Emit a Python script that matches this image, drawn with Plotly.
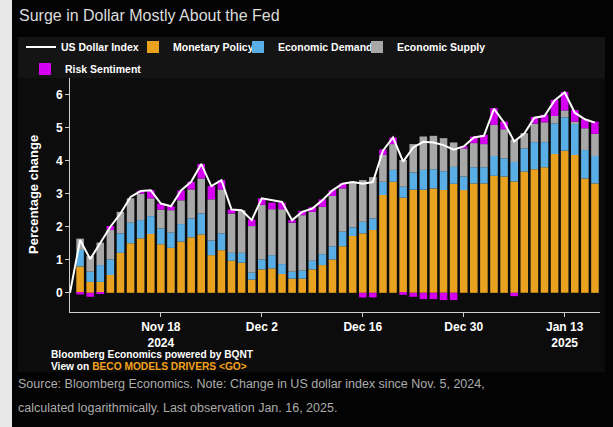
import plotly.graph_objects as go

# ---------------- data ----------------
dates = [
    "2024-11-05", "2024-11-06", "2024-11-07", "2024-11-08",
    "2024-11-11", "2024-11-12", "2024-11-13", "2024-11-14", "2024-11-15",
    "2024-11-18", "2024-11-19", "2024-11-20", "2024-11-21", "2024-11-22",
    "2024-11-25", "2024-11-26", "2024-11-27", "2024-11-28", "2024-11-29",
    "2024-12-02", "2024-12-03", "2024-12-04", "2024-12-05", "2024-12-06",
    "2024-12-09", "2024-12-10", "2024-12-11", "2024-12-12", "2024-12-13",
    "2024-12-16", "2024-12-17", "2024-12-18", "2024-12-19", "2024-12-20",
    "2024-12-23", "2024-12-24", "2024-12-25", "2024-12-26", "2024-12-27",
    "2024-12-30", "2024-12-31", "2025-01-01", "2025-01-02", "2025-01-03",
    "2025-01-06", "2025-01-07", "2025-01-08", "2025-01-09", "2025-01-10",
    "2025-01-13", "2025-01-14", "2025-01-15", "2025-01-16",
]
bar_dates = dates[1:]

monetary_policy = [
    0.80, 0.33, 0.33, 0.54, 1.21, 1.50, 1.65, 1.78,
    1.47, 1.36, 1.55, 1.68, 1.77,
    1.14, 1.29, 0.97, 0.91, 0.40,
    0.71, 0.74, 0.57, 0.43, 0.43,
    0.71, 0.84, 1.01, 1.41, 1.72,
    1.80, 1.90, 2.96, 3.36, 2.88,
    3.12, 3.12, 3.16, 3.11, 3.30,
    3.11, 3.31, 3.31, 3.54, 3.52,
    3.37, 3.67, 3.74, 3.80, 4.20,
    4.30, 4.17, 3.46, 3.31,
]
economic_demand = [
    0.50, 0.31, 0.51, 0.47, 0.59, 0.62, 0.55, 0.54,
    0.48, 0.46, 0.53, 0.57, 0.63,
    0.44, 0.51, 0.24, 0.30, 0.21,
    0.30, 0.40, 0.30, 0.21, 0.24,
    0.26, 0.33, 0.40, 0.44, 0.26,
    0.35, 0.35, 0.40, 0.36, 0.33,
    0.52, 0.60, 0.58, 0.57, 0.51,
    0.41, 0.49, 0.49, 0.60, 0.55,
    0.59, 0.70, 0.82, 0.76, 0.93,
    1.01, 0.96, 0.86, 0.83,
]
economic_supply = [
    0.34, 0.47, 0.68, 0.89, 0.65, 0.74, 0.80, 0.54,
    0.57, 0.68, 0.72, 0.88, 1.06,
    1.25, 1.33, 1.19, 1.29, 1.41,
    1.65, 1.39, 1.66, 1.48, 1.68,
    1.48, 1.43, 1.52, 1.31, 1.38,
    1.26, 1.25, 0.81, 0.78, 0.81,
    0.86, 1.01, 1.01, 1.00, 0.74,
    0.85, 0.73, 0.70, 0.94, 0.88,
    0.68, 0.46, 0.56, 0.60, 0.22,
    0.21, 0.05, 0.66, 0.67,
]
risk_sentiment = [
    -0.05, -0.12, -0.03, 0.12, 0.00, 0.00, 0.09, 0.25,
    0.18, 0.12, 0.30, 0.23, 0.44,
    0.40, 0.28, 0.12, 0.00, 0.20,
    0.20, 0.20, 0.20, 0.08, 0.13,
    0.14, 0.23, 0.18, 0.15, 0.00,
    -0.14, -0.14, 0.17, 0.20, -0.06,
    -0.12, -0.19, -0.19, -0.22, -0.22,
    0.07, 0.20, 0.28, 0.51, 0.23,
    -0.10, 0.00, 0.20, 0.23, 0.49,
    0.56, 0.35, 0.27, 0.37,
]
us_dollar_index = [
    0.00,
    1.60, 1.02, 1.50, 2.00, 2.40, 2.90, 3.08, 3.10,
    2.70, 2.62, 3.10, 3.36, 3.90,
    3.23, 3.41, 2.52, 2.50, 2.20,
    2.86, 2.80, 2.75, 2.20, 2.45,
    2.55, 2.80, 3.10, 3.30, 3.35,
    3.30, 3.35, 4.30, 4.70, 3.97,
    4.40, 4.57, 4.55, 4.47, 4.33,
    4.43, 4.70, 4.75, 5.57, 5.15,
    4.58, 4.82, 5.30, 5.35, 5.82,
    6.07, 5.45, 5.25, 5.15,
]

tick_dates = ["2024-11-18", "2024-12-02", "2024-12-16", "2024-12-30", "2025-01-13"]
tick_labels = ["Nov 18<br>2024", "Dec 2", "Dec 16", "Dec 30", "Jan 13<br>2025"]
y_ticks = [0, 1, 2, 3, 4, 5, 6]

# ---------------- styling ----------------
W, H = 613, 427
ML, MR, MT, MB = 70, 13, 78, 115
PW, PH = W - ML - MR, H - MT - MB


def px(x):
    return (x - ML) / PW


def py(y):
    return (H - MB - y) / PH


SANS = "Liberation Sans, Arial, sans-serif"
BOLD = dict(family=SANS, weight="bold", color="#ffffff")

fig = go.Figure()

series = [
    ("Monetary Policy", monetary_policy, "#E9A21F", "legend2"),
    ("Economic Demand", economic_demand, "#5AAEE6", "legend3"),
    ("Economic Supply", economic_supply, "#A8A8A8", "legend4"),
    ("Risk Sentiment", risk_sentiment, "#D400F0", "legend5"),
]
for name, vals, col, leg in series:
    fig.add_trace(go.Bar(x=bar_dates, y=vals, name=name, marker_color=col,
                         marker_line_width=0, legend=leg, showlegend=True))
fig.add_trace(go.Scatter(x=dates, y=us_dollar_index, name="US Dollar Index",
                         mode="lines", line=dict(color="#ffffff", width=2),
                         legend="legend", showlegend=True))

shapes = [
    # chart panel
    dict(type="rect", xref="paper", yref="paper", x0=px(18), x1=px(605),
         y0=py(372), y1=py(37), fillcolor="#0c0c0c", line_width=0, layer="below"),
    # legend band
    dict(type="rect", xref="paper", yref="paper", x0=px(18), x1=px(605),
         y0=py(78), y1=py(37), fillcolor="#141414", line_width=0, layer="below"),
    # light page strip on the left
    dict(type="rect", xref="paper", yref="paper", x0=px(0), x1=px(12),
         y0=py(427), y1=py(0), fillcolor="#e8e8e8", line_width=0, layer="below"),
]

annotations = [
    dict(text="Surge in Dollar Mostly About the Fed", x=px(17), y=py(15),
         xref="paper", yref="paper", xanchor="left", yanchor="middle", showarrow=False,
         font=dict(family=SANS, size=16, color="#dcdcdc")),
    dict(text="Percentage change", x=px(33), y=py(195), xref="paper", yref="paper",
         xanchor="center", yanchor="middle", textangle=-90, showarrow=False,
         font=dict(**BOLD, size=13)),
    dict(text="Bloomberg Economics powered by BQNT", x=px(49), y=py(354),
         xref="paper", yref="paper", xanchor="left", yanchor="middle", showarrow=False,
         font=dict(**BOLD, size=10.2)),
    dict(text="View on <span style='color:#F5A21C'>BECO MODELS DRIVERS &lt;GO&gt;</span>",
         x=px(49), y=py(366), xref="paper", yref="paper", xanchor="left",
         yanchor="middle", showarrow=False, font=dict(**BOLD, size=10.2)),
    dict(text="Source: Bloomberg Economics. Note: Change in US dollar index since Nov. 5, 2024,",
         x=px(16), y=py(384), xref="paper", yref="paper", xanchor="left",
         yanchor="middle", showarrow=False,
         font=dict(family=SANS, size=12.5, color="#ababab")),
    dict(text="calculated logarithmically. Last observation Jan. 16, 2025.",
         x=px(16), y=py(408), xref="paper", yref="paper", xanchor="left",
         yanchor="middle", showarrow=False,
         font=dict(family=SANS, size=12.5, color="#ababab")),
]


def leg(x, y):
    return dict(orientation="h", x=px(x), y=py(y), xanchor="left", yanchor="middle",
                bgcolor="rgba(0,0,0,0)", font=dict(**BOLD, size=10.5), itemwidth=30)


fig.update_layout(
    width=W, height=H,
    margin=dict(l=ML, r=MR, t=MT, b=MB, pad=0),
    paper_bgcolor="#030303",
    plot_bgcolor="rgba(0,0,0,0)",
    showlegend=True,
    barmode="relative",
    bargap=0.25,
    shapes=shapes,
    annotations=annotations,
    legend=leg(21, 47),
    legend2=leg(133, 47),
    legend3=leg(238, 47),
    legend4=leg(357, 47),
    legend5=leg(25, 69),
    xaxis=dict(type="category", categoryorder="array", categoryarray=dates,
               range=[0, 52.5], tickmode="array", tickvals=tick_dates,
               ticktext=tick_labels, ticks="outside", ticklen=4, tickcolor="#cccccc",
               showline=True, linecolor="#cccccc", linewidth=1, showgrid=False,
               zeroline=False, tickfont=dict(**BOLD, size=12)),
    yaxis=dict(range=[-0.58, 6.5], tickmode="array", tickvals=y_ticks,
               ticks="outside", ticklen=4, tickcolor="#cccccc", showline=True,
               linecolor="#cccccc", linewidth=1, showgrid=False, zeroline=False,
               tickfont=dict(**BOLD, size=12)),
)

fig.write_html(
    "out.html",
    config={"displayModeBar": False},
    post_script="document.body.style.margin='0';document.body.style.background='#030303';",
)
